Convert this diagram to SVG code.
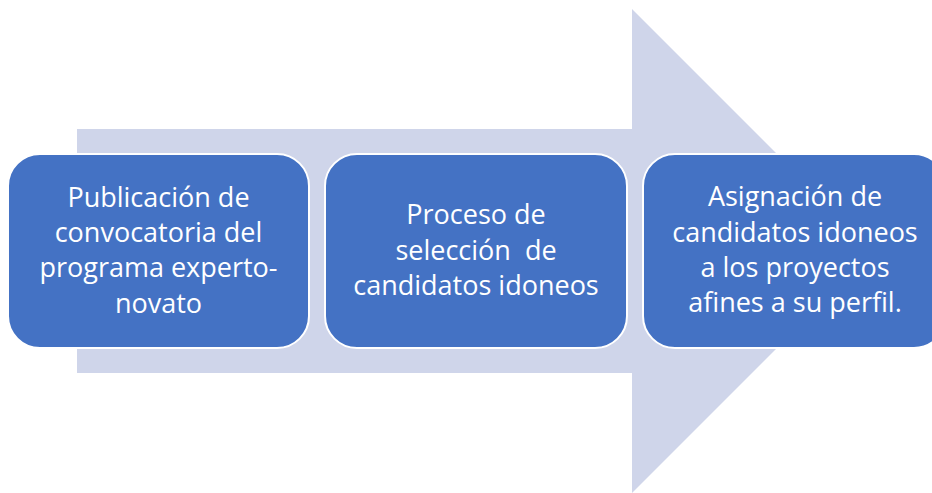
<svg xmlns="http://www.w3.org/2000/svg" width="932" height="493" viewBox="0 0 932 493">
  <style>
    .box { fill: #4472C4; stroke: #FFFFFF; stroke-width: 2; }
    .lbl { fill: #FFFFFF; font-family: "Open Sans", "Liberation Sans", sans-serif; font-size: 27px; text-anchor: middle; }
    .arrow { fill: #CFD5EA; }
  </style>
  <rect width="932" height="493" fill="#FFFFFF"/>
  <g id="connectors">
    <path class="arrow" d="M77,129 H632 V9 L874,251 L632,493 V373 H77 Z"/>
  </g>
  <g id="node1">
    <rect class="box" x="8" y="154" width="301" height="194" rx="32" ry="32"/>
    <text class="lbl" x="158.5" y="207">Publicación de</text>
    <text class="lbl" x="158.5" y="242">convocatoria del</text>
    <text class="lbl" x="158.5" y="277">programa experto-</text>
    <text class="lbl" x="158.5" y="313">novato</text>
  </g>
  <g id="node2">
    <rect class="box" x="325" y="154" width="302" height="194" rx="32" ry="32"/>
    <text class="lbl" x="476" y="224">Proceso de</text>
    <text class="lbl" x="476" y="260" xml:space="preserve" style="white-space:pre">selección  de</text>
    <text class="lbl" x="476" y="295">candidatos idoneos</text>
  </g>
  <g id="node3">
    <rect class="box" x="643" y="154" width="303" height="194" rx="32" ry="32"/>
    <text class="lbl" x="795" y="206">Asignación de</text>
    <text class="lbl" x="795" y="242">candidatos idoneos</text>
    <text class="lbl" x="795" y="277">a los proyectos</text>
    <text class="lbl" x="795" y="312">afines a su perfil.</text>
  </g>
</svg>
